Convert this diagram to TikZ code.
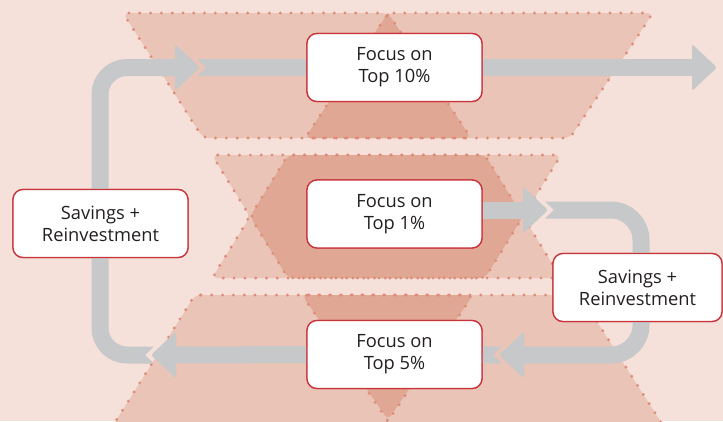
\documentclass[tikz,border=0pt]{standalone}
\usepackage{fontspec}
\setmainfont{Open Sans}
\definecolor{bgpink}{HTML}{F5E1DA}
\definecolor{bandlight}{HTML}{EAC4B6}
\definecolor{banddark}{HTML}{E0A894}
\definecolor{dotcol}{HTML}{DF8C78}
\definecolor{arrowgray}{HTML}{C7C8CA}
\definecolor{boxred}{HTML}{C9343B}
\definecolor{txt}{HTML}{231F20}
\begin{document}
\begin{tikzpicture}[x=1pt,y=-1pt,
  bandfill/.style={fill=bandlight, rounded corners=6pt},
  overlapfill/.style={fill=banddark, rounded corners=6pt},
  dotline/.style={draw=dotcol, line width=3.2pt, line cap=round, dash pattern=on 0pt off 10.8pt, rounded corners=6pt},
  shaft/.style={draw=arrowgray, line width=17pt},
  headfill/.style={fill=arrowgray, rounded corners=2.5pt},
  notchfill/.style={fill=arrowgray},
  box/.style={draw=boxred, line width=1.3pt, fill=white, rounded corners=10pt,
    minimum width=175pt, minimum height=68pt, align=center, text=txt,
    font=\fontsize{18.3}{22}\selectfont, inner sep=0pt}
]
\useasboundingbox (0,0) rectangle (723,421);
\fill[bgpink] (0,0) rectangle (723,421);

% ---- top band ----
\path[bandfill] (123,13) -- (388,13) -- (471,138) -- (203,138) -- cycle;
\path[bandfill] (388,13) -- (653,13) -- (570,138) -- (305,138) -- cycle;
\path[overlapfill] (388,13) -- (471,138) -- (305,138) -- cycle;
\path[dotline] (123,13) -- (388,13) -- (471,138) -- (203,138) -- cycle;
\path[dotline] (388,13) -- (653,13) -- (570,138) -- (305,138) -- cycle;

% ---- middle band ----
\path[bandfill] (212,155) -- (485,155) -- (523,216.5) -- (485,278) -- (212,278) -- (250,216.5) -- cycle;
\path[bandfill] (288,155) -- (561,155) -- (523,216.5) -- (561,278) -- (288,278) -- (250,216.5) -- cycle;
\path[overlapfill] (288,155) -- (485,155) -- (523,216.5) -- (485,278) -- (288,278) -- (250,216.5) -- cycle;
\path[dotline] (212,155) -- (485,155) -- (523,216.5) -- (485,278) -- (212,278) -- (250,216.5) -- cycle;
\path[dotline] (288,155) -- (561,155) -- (523,216.5) -- (561,278) -- (288,278) -- (250,216.5) -- cycle;

% ---- bottom band (runs past the lower edge) ----
\path[bandfill] (195,295) -- (473,295) -- (384,427) -- (112,427) -- cycle;
\path[bandfill] (302,295) -- (580,295) -- (664,427) -- (392,427) -- cycle;
\path[overlapfill] (302,295) -- (473,295) -- (388,420) -- cycle;
\path[dotline] (195,295) -- (473,295) -- (384,427) -- (112,427) -- cycle;
\path[dotline] (302,295) -- (580,295) -- (664,427) -- (392,427) -- cycle;

% ---- nodes ----
\path node[box] (t10) at (394.5,67.5) {Focus on\\Top 10\%}
      node[box] (t1) at (394.5,214) {Focus on\\Top 1\%}
      node[box] (t5) at (394.5,354.5) {Focus on\\Top 5\%}
      node[box] (sl) at (100.5,223.5) {Savings +\\Reinvestment}
      node[box, minimum width=169pt] (sr) at (637.5,287.5) {Savings +\\Reinvestment};

% ---- connectors ----
\coordinate (tipA) at (717,67.5);
\coordinate (tipB) at (200,67.5);
\coordinate (tipC) at (548,210);
\coordinate (tipD) at (499,355);
\coordinate (tipE) at (151,355);

% Top 10% -> out
\draw[shaft] (t10.east) -- ([xshift=-24pt]tipA);
\path[headfill] ([xshift=-25pt,yshift=23.5pt]tipA) -- (tipA) -- ([xshift=-25pt,yshift=-23.5pt]tipA) -- cycle;

% Top 5% -> left
\draw[shaft] (t5.west) -- ([xshift=24pt]tipE);
\path[headfill] ([xshift=25pt,yshift=23.5pt]tipE) -- (tipE) -- ([xshift=25pt,yshift=-23.5pt]tipE) -- cycle;

% left loop
\draw[shaft, rounded corners=27pt] (145,355) -- (100,355) -- (100,67.5) -- ([xshift=-24pt]tipB);
\path[notchfill] (145,355) -- (154,346.5) -- (144,346.5) -- (144,363.5) -- (154,363.5) -- cycle;
\path[headfill] ([xshift=-25pt,yshift=23.5pt]tipB) -- (tipB) -- ([xshift=-25pt,yshift=-23.5pt]tipB) -- cycle;

% into Top 10%
\draw[shaft] (206,67.5) -- (t10.west);
\path[notchfill] (206,67.5) -- (197,59) -- (207,59) -- (207,76) -- (197,76) -- cycle;

% Top 1% -> right
\draw[shaft] ([yshift=4pt]t1.east) -- ([xshift=-24pt]tipC);
\path[headfill] ([xshift=-25pt,yshift=23.5pt]tipC) -- (tipC) -- ([xshift=-25pt,yshift=-23.5pt]tipC) -- cycle;

% right loop
\draw[shaft, rounded corners=30pt] (554,210) -- (641,210) -- (641,355) -- ([xshift=24pt]tipD);
\path[notchfill] (554,210) -- (545,201.5) -- (555,201.5) -- (555,218.5) -- (545,218.5) -- cycle;
\path[headfill] ([xshift=25pt,yshift=23.5pt]tipD) -- (tipD) -- ([xshift=25pt,yshift=-23.5pt]tipD) -- cycle;

% into Top 5%
\draw[shaft] (493,355) -- (t5.east);
\path[notchfill] (493,355) -- (502,346.5) -- (492,346.5) -- (492,363.5) -- (502,363.5) -- cycle;

% ---- boxes on top ----
\node[box] at (t10) {Focus on\\Top 10\%};
\node[box] at (t1) {Focus on\\Top 1\%};
\node[box] at (t5) {Focus on\\Top 5\%};
\node[box] at (sl) {Savings +\\Reinvestment};
\node[box, minimum width=169pt] at (sr) {Savings +\\Reinvestment};
\end{tikzpicture}
\end{document}
